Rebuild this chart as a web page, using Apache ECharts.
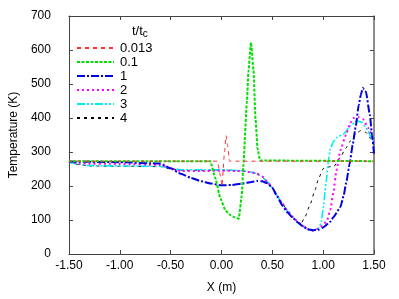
<!DOCTYPE html>
<html>
<head>
<meta charset="utf-8">
<script src="https://cdn.jsdelivr.net/npm/echarts@6/dist/echarts.min.js"></script>
<style>html,body{margin:0;padding:0;background:#fff}#c{width:399px;height:299px}</style>
</head>
<body>
<div id="c"></div>
<script>
// ---- data ----
const seriesNames = ['0.013', '0.1', '1', '2', '3', '4'];
const xTickLabels = ['-1.50', '-1.00', '-0.50', '0.00', '0.50', '1.00', '1.50'];
const yTickLabels = [0, 100, 200, 300, 400, 500, 600, 700];

const x0013 = [-1.5, -0.04, -0.01, 0.005, 0.03, 0.045, 0.06, 0.08, 1.5];
const t0013 = [273, 273, 230, 200, 300, 348, 320, 273, 273];

const x01 = [-1.5, -0.11, -0.06, -0.01, 0.04, 0.09, 0.13, 0.17, 0.2, 0.215, 0.25, 0.265, 0.29, 0.315, 0.335, 0.355, 0.38, 1.5];
const t01 = [273, 273, 222, 163, 128, 114, 108, 104, 172, 260, 446, 537, 622, 542, 397, 309, 275, 273];

const x1 = [-1.5, -1.0, -0.6, -0.5, -0.4, -0.3, -0.2, -0.1, 0.0, 0.1, 0.2, 0.3, 0.35, 0.4, 0.45, 0.5, 0.55, 0.6, 0.65, 0.7, 0.75, 0.8, 0.85, 0.9, 0.95, 1.0, 1.07, 1.1, 1.17, 1.2, 1.23, 1.26, 1.29, 1.32, 1.35, 1.37, 1.39, 1.42, 1.46, 1.48, 1.5];
const t1 = [272, 270, 266, 252, 236, 224, 214, 207, 202, 203, 207, 212, 215, 214, 208, 195, 168, 142, 122, 107, 93, 82, 73, 70, 71, 78, 95, 108, 138, 170, 215, 265, 320, 375, 438, 468, 488, 478, 408, 350, 295];

const x2 = [-1.5, -1.4, -1.0, -0.6, -0.5, -0.4, -0.2, 0.0, 0.2, 0.3, 0.35, 0.4, 0.45, 0.5, 0.55, 0.6, 0.65, 0.7, 0.75, 0.8, 0.85, 0.9, 0.95, 1.0, 1.04, 1.07, 1.1, 1.13, 1.17, 1.22, 1.27, 1.3, 1.35, 1.39, 1.44, 1.5];
const t2 = [272, 266, 265, 262, 252, 244, 244, 245, 244, 240, 236, 228, 213, 195, 170, 148, 127, 110, 95, 82, 73, 69, 74, 85, 100, 130, 180, 245, 305, 348, 387, 400, 402, 397, 372, 330];

const x3 = [-1.5, -1.4, -1.3, -1.0, -0.6, -0.5, -0.4, -0.2, 0.0, 0.2, 0.3, 0.35, 0.4, 0.45, 0.5, 0.55, 0.6, 0.65, 0.7, 0.75, 0.8, 0.85, 0.9, 0.95, 0.98, 1.0, 1.03, 1.05, 1.07, 1.1, 1.14, 1.2, 1.27, 1.33, 1.38, 1.43, 1.48, 1.5];
const t3 = [270, 264, 260, 259, 258, 252, 248, 248, 248, 245, 240, 236, 228, 213, 195, 170, 148, 127, 108, 93, 80, 71, 69, 75, 90, 134, 213, 271, 309, 330, 344, 353, 377, 392, 387, 367, 338, 325];

const x4 = [-1.5, -1.4, -1.3, -1.0, -0.6, -0.5, -0.4, -0.2, 0.0, 0.2, 0.3, 0.35, 0.4, 0.45, 0.5, 0.55, 0.6, 0.65, 0.7, 0.75, 0.78, 0.82, 0.87, 0.92, 0.955, 1.0, 1.07, 1.1, 1.17, 1.22, 1.27, 1.32, 1.37, 1.42, 1.47, 1.5];
const t4 = [270, 263, 259, 258, 257, 250, 246, 246, 247, 245, 240, 235, 227, 212, 194, 170, 148, 127, 108, 93, 88, 108, 144, 188, 222, 251, 257, 255, 285, 310, 333, 353, 363, 358, 338, 320];

// ---- build ----
const zip = (xs, ys) => xs.map((x, i) => [x, ys[i]]);
const seriesData = [zip(x0013, t0013), zip(x01, t01), zip(x1, t1), zip(x2, t2), zip(x3, t3), zip(x4, t4)];
const styles = [
  { color: '#ff3030', width: 1, type: [4, 4] },
  { color: '#00e000', width: 2, type: [3, 1.5] },
  { color: '#0000e0', width: 2, type: [8, 2, 2, 2] },
  { color: '#ff00ff', width: 2, type: [2, 3] },
  { color: '#00f0f0', width: 1.6, type: [8, 2, 2, 2, 2, 2] },
  { color: '#000000', width: 1, type: [3, 4] }
];
const FONT = 'Liberation Sans, Arial, Helvetica, sans-serif';

const chart = echarts.init(document.getElementById('c'), null, { renderer: 'canvas' });
const axisLine = { show: true, onZero: false, lineStyle: { color: '#444', width: 1 } };
const xFmt = v => xTickLabels[Math.round((v + 1.5) / 0.5)] ?? '';
const option = {
  animation: false,
  backgroundColor: '#fff',
  grid: { left: 68, right: 25, top: 16, bottom: 43 },
  title: {
    text: 't/t{s|c}',
    left: 127, top: 18,
    textStyle: { fontFamily: FONT, fontSize: 13, fontWeight: 'normal', color: '#000',
      rich: { s: { fontFamily: FONT, fontSize: 10, verticalAlign: 'bottom', padding: [6, 0, 0, 0], color: '#000' } } }
  },
  legend: {
    orient: 'vertical', left: 71, top: 36,
    itemWidth: 37, itemHeight: 14, itemGap: 0,
    itemStyle: { opacity: 0 },
    textStyle: { fontFamily: FONT, fontSize: 13, lineHeight: 14, color: '#000', padding: [0, 0, 0, 1] },
    data: seriesNames
  },
  xAxis: [{
    type: 'value', min: -1.5, max: 1.5, interval: 0.5, position: 'bottom',
    name: 'X (m)', nameLocation: 'middle', nameGap: 28,
    nameTextStyle: { fontFamily: FONT, fontSize: 12, color: '#000' },
    axisLine, splitLine: { show: false },
    axisTick: { inside: true, length: 4, lineStyle: { color: '#444' } },
    axisLabel: { fontFamily: FONT, fontSize: 12, color: '#000', margin: 6, formatter: xFmt }
  }, {
    type: 'value', min: -1.5, max: 1.5, interval: 0.5, position: 'top',
    axisLine, splitLine: { show: false },
    axisTick: { inside: true, length: 4, lineStyle: { color: '#444' } },
    axisLabel: { show: false }
  }],
  yAxis: [{
    type: 'value', min: 0, max: 700, interval: 100, position: 'left',
    name: 'Temperature (K)', nameLocation: 'middle', nameGap: 48,
    nameTextStyle: { fontFamily: FONT, fontSize: 12, color: '#000' },
    axisLine, splitLine: { show: false },
    axisTick: { inside: true, length: 4, lineStyle: { color: '#444' } },
    axisLabel: { fontFamily: FONT, fontSize: 12, color: '#000', margin: 18,
      formatter: v => yTickLabels.includes(v) ? String(v) : '' }
  }, {
    type: 'value', min: 0, max: 700, interval: 100, position: 'right',
    axisLine: { show: true, onZero: false, lineStyle: { color: '#666', width: 1.5 } }, splitLine: { show: false },
    axisTick: { inside: true, length: 4, lineStyle: { color: '#444' } },
    axisLabel: { show: false }
  }],
  series: seriesNames.map((n, i) => ({
    name: n, type: 'line', data: seriesData[i], xAxisIndex: 0, yAxisIndex: 0,
    showSymbol: false, symbol: 'none', smooth: 0.15, smoothMonotone: 'x', z: 10 - i,
    lineStyle: { color: styles[i].color, width: styles[i].width, type: styles[i].type },
    itemStyle: { color: styles[i].color }
  }))
};
chart.setOption(option);
</script>
</body>
</html>
